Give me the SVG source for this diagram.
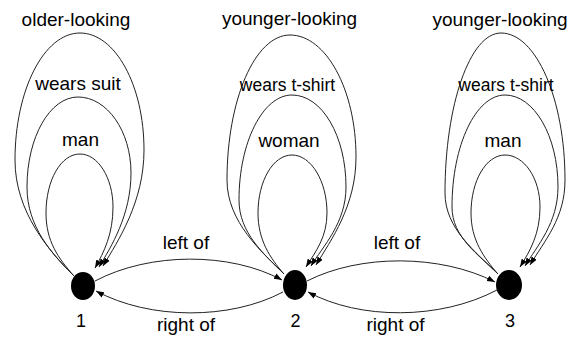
<svg xmlns="http://www.w3.org/2000/svg" width="568" height="338" viewBox="0 0 568 338">
<style>
  text { font-family: "Liberation Sans", Arial, sans-serif; font-size: 19px; fill: #000; text-anchor: middle; }
  .small { font-size: 17.5px; }
  .edge { fill: none; stroke: #222; stroke-width: 1; marker-end: url(#arrow); }
  .node { fill: #000; }
</style>
<defs>
  <marker id="arrow" markerUnits="userSpaceOnUse" markerWidth="10" markerHeight="8" refX="8" refY="4" orient="auto">
    <path d="M0,1 L8,4 L0,7 Z" fill="#000"/>
  </marker>
</defs>
<rect width="568" height="338" fill="#fff"/>
<g id="connectors">
  <!-- node 1 loops -->
  <path class="edge" d="M74,276 C49,251 15,212 15,160 C15,90 44,33 80,33 C115,33 144,85 144,150 C144,202 118,241 103,266"/>
  <path class="edge" d="M74,276 C52,254 27,227 27,187 C27,137 50,97 78,97 C107,97 131,131 131,173 C131,215 111,247 99,267"/>
  <path class="edge" d="M74,276 C58,258 46,241 46,213 C46,180 61,154 80,154 C98,154 113,178 113,207 C113,234 104,252 95,268"/>
  <!-- node 2 loops -->
  <path class="edge" d="M284,274 C262,252 227,222 227,180 C227,100 255,35 290,35 C326,35 356,90 356,157 C356,206 331,240 316,265"/>
  <path class="edge" d="M284,274 C264,254 239,233 239,200 C239,142 263,95 292,95 C322,95 346,136 346,187 C346,223 323,246 311,266"/>
  <path class="edge" d="M284,274 C270,258 258,240 258,213 C258,181 273,155 292,155 C311,155 327,181 327,213 C327,237 316,251 306,267"/>
  <!-- node 3 loops -->
  <path class="edge" d="M498,274 C476,252 445,229 445,193 C445,105 470,33 501,33 C536,33 565,99 565,180 C565,218 545,240 530,265"/>
  <path class="edge" d="M498,274 C478,254 452,237 452,207 C452,145 476,95 505,95 C534,95 558,136 558,187 C558,223 537,246 525,266"/>
  <path class="edge" d="M498,274 C484,258 471,240 471,213 C471,181 486,155 505,155 C524,155 540,178 540,207 C540,234 530,251 520,267"/>
  <!-- horizontal edges -->
  <path class="edge" d="M95,281 C150,252 230,252 282,280"/>
  <path class="edge" d="M283,292 C230,320 150,320 96,291"/>
  <path class="edge" d="M307,281 C360,254 440,254 495,282"/>
  <path class="edge" d="M497,290 C440,320 360,320 308,292"/>
</g>
<g id="edge-labels">
  <text x="186" y="249">left of</text>
  <text x="186" y="331">right of</text>
  <text x="397" y="249">left of</text>
  <text x="395.5" y="331">right of</text>
</g>
<g id="node1">
  <ellipse class="node" cx="83" cy="286" rx="12" ry="14"/>
  <text x="81" y="327" style="font-size:18px">1</text>
  <text x="76" y="26">older-looking</text>
  <text x="78" y="90">wears suit</text>
  <text x="80.5" y="146">man</text>
</g>
<g id="node2">
  <ellipse class="node" cx="295" cy="285" rx="12" ry="15"/>
  <text x="295.5" y="327" style="font-size:18px">2</text>
  <text x="289.5" y="25">younger-looking</text>
  <text class="small" x="287.5" y="91">wears t-shirt</text>
  <text x="289" y="147">woman</text>
</g>
<g id="node3">
  <ellipse class="node" cx="509" cy="285" rx="13" ry="15"/>
  <text x="510" y="327" style="font-size:18px">3</text>
  <text x="500" y="26">younger-looking</text>
  <text class="small" x="506" y="91">wears t-shirt</text>
  <text x="503" y="147">man</text>
</g>
</svg>
